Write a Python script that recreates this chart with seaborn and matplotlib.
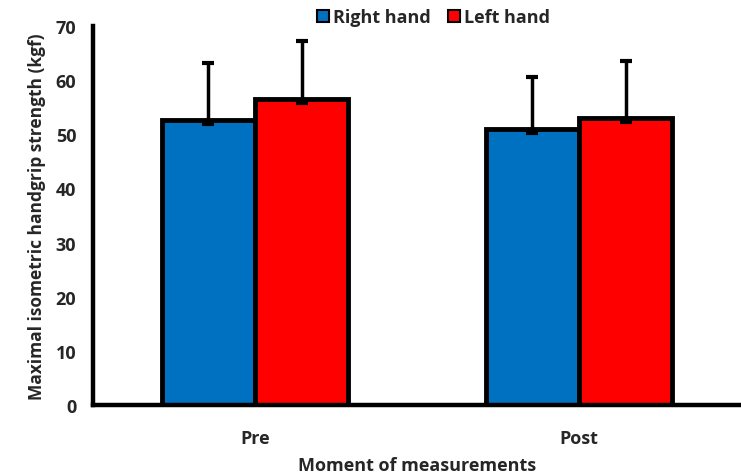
import pandas as pd
import matplotlib.pyplot as plt
import seaborn as sns

# --- Data ---
MOMENTS = ['Pre', 'Post']
HANDS = ['Right hand', 'Left hand']
RIGHT_MEAN = [52.6, 51.0]
LEFT_MEAN = [56.5, 53.0]
RIGHT_SD = [10.6, 9.6]
LEFT_SD = [10.7, 10.5]
COLORS = {'Right hand': '#0070C0', 'Left hand': '#FF0000'}

df = pd.DataFrame({
    'moment': MOMENTS * 2,
    'hand': [HANDS[0]] * 2 + [HANDS[1]] * 2,
    'value': RIGHT_MEAN + LEFT_MEAN,
})
sds = {HANDS[0]: RIGHT_SD, HANDS[1]: LEFT_SD}

# --- Plot ---
sns.set_style('white')
plt.rcParams['font.family'] = ['Open Sans', 'DejaVu Sans']
plt.rcParams['font.weight'] = 'bold'

fig = plt.figure(figsize=(7.41, 4.77), dpi=100)
ax = fig.add_axes([0.1255, 0.1488, 0.8745, 0.7945])

sns.barplot(data=df, x='moment', y='value', hue='hand', order=MOMENTS,
            hue_order=HANDS, palette=COLORS, saturation=1, width=0.575,
            edgecolor='black', linewidth=3.5, errorbar=None, ax=ax, zorder=2)

# plus-only error bars, Excel style
for container, hand in zip(ax.containers, HANDS):
    xs = [p.get_x() + p.get_width() / 2 for p in container.patches]
    ys = [p.get_height() for p in container.patches]
    low = [0.7] * len(ys)
    ax.errorbar(xs, ys, yerr=[low, sds[hand]], fmt='none', ecolor='black',
                elinewidth=2.5, capsize=4, capthick=3, zorder=3)

ax.set_xlim(-0.5, 1.5)
ax.set_ylim(0, 70)
ax.set_yticks(range(0, 71, 10))
ax.tick_params(axis='both', length=0, labelsize=13)
ax.tick_params(axis='y', pad=12)
ax.tick_params(axis='x', pad=17)
for lbl in ax.get_xticklabels() + ax.get_yticklabels():
    lbl.set_fontweight('bold')

ax.set_xlabel('Moment of measurements', fontsize=13, fontweight='bold', labelpad=7)
ax.set_ylabel('Maximal isometric handgrip strength (kgf)', fontsize=12.5,
              fontweight='bold', labelpad=7)

for side in ['top', 'right']:
    ax.spines[side].set_visible(False)
for side in ['left', 'bottom']:
    ax.spines[side].set_linewidth(3.2)
    ax.spines[side].set_color('black')

leg = ax.legend(loc='center', bbox_to_anchor=(0.585, 0.962),
                bbox_transform=fig.transFigure, ncol=2, frameon=False,
                handlelength=0.65, handleheight=0.65, handletextpad=0.2,
                columnspacing=1.0, prop={'weight': 'bold', 'size': 13})
for h in leg.legend_handles:
    h.set_linewidth(1.5)

fig.savefig('out.png', dpi=100)
